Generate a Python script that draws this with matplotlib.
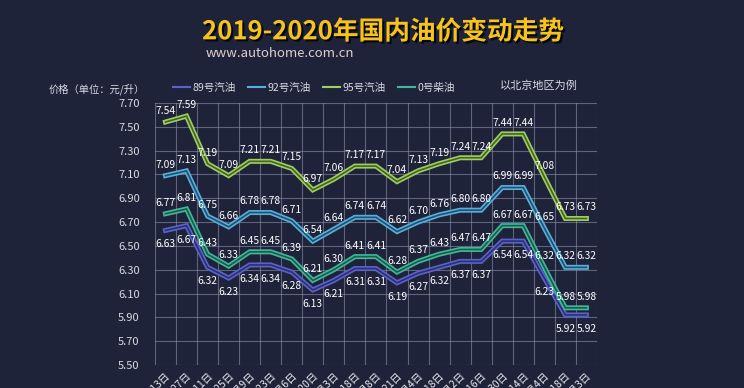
import matplotlib.pyplot as plt
import matplotlib.patheffects as pe
from matplotlib.lines import Line2D

plt.rcParams["font.family"] = ["Noto Sans CJK SC", "DejaVu Sans"]

dates = ["5月13日", "5月27日", "6月11日", "6月25日", "7月9日", "7月23日", "8月6日",
         "8月20日", "9月3日", "9月18日", "10月8日", "10月21日", "11月4日", "11月18日",
         "12月2日", "12月16日", "12月30日", "1月14日", "2月4日", "2月18日", "3月3日"]

oil_89 = [6.63, 6.67, 6.32, 6.23, 6.34, 6.34, 6.28, 6.13, 6.21, 6.31, 6.31,
          6.19, 6.27, 6.32, 6.37, 6.37, 6.54, 6.54, 6.23, 5.92, 5.92]
oil_92 = [7.09, 7.13, 6.75, 6.66, 6.78, 6.78, 6.71, 6.54, 6.64, 6.74, 6.74,
          6.62, 6.70, 6.76, 6.80, 6.80, 6.99, 6.99, 6.65, 6.32, 6.32]
oil_95 = [7.54, 7.59, 7.19, 7.09, 7.21, 7.21, 7.15, 6.97, 7.06, 7.17, 7.17,
          7.04, 7.13, 7.19, 7.24, 7.24, 7.44, 7.44, 7.08, 6.73, 6.73]
oil_0 = [6.77, 6.81, 6.43, 6.33, 6.45, 6.45, 6.39, 6.21, 6.30, 6.41, 6.41,
         6.28, 6.37, 6.43, 6.47, 6.47, 6.67, 6.67, 6.32, 5.98, 5.98]

y_ticks = [5.50, 5.70, 5.90, 6.10, 6.30, 6.50, 6.70, 6.90, 7.10, 7.30, 7.50, 7.70]

bg = "#1f2339"
series = [
    ("89号汽油", oil_89, "#5a62cc", "#2c3070", "below"),
    ("92号汽油", oil_92, "#56b0de", "#24506e", "above"),
    ("95号汽油", oil_95, "#9fcf5c", "#46612a", "above"),
    ("0号柴油", oil_0, "#3fb89c", "#1d5a4c", "above"),
]

fig = plt.figure(figsize=(7.44, 3.88), dpi=100, facecolor=bg)
ax = fig.add_axes([0.2083, 0.0593, 0.594, 0.6753], facecolor=bg)

x = list(range(len(dates)))
for name, vals, col, inner, pos in series:
    ax.plot(x, vals, color=col, lw=3.6, solid_joinstyle="miter", zorder=3)
    ax.plot(x, vals, color=inner, lw=1.2, solid_joinstyle="miter", zorder=4)
    for xi, v in zip(x, vals):
        dy = -10 if pos == "below" else 8
        ax.annotate(f"{v:.2f}", (xi, v), xytext=(0, dy), textcoords="offset points",
                    ha="center", va="center", color="white", fontsize=7.4, zorder=5)

ax.set_xlim(-0.5, len(dates) - 0.5)
ax.set_ylim(5.5, 7.7)
ax.set_yticks(y_ticks)
ax.set_yticklabels([f"{t:.2f}" for t in y_ticks], color="#d8dae3", fontsize=8)
ax.set_xticks(x)
ax.set_xticklabels(dates, rotation=45, ha="right", rotation_mode="anchor",
                   color="#e8e8ee", fontsize=7.5)
ax.tick_params(length=0, pad=11, axis="y")
ax.tick_params(length=0, pad=4, axis="x")

for b in [i - 0.5 for i in range(len(dates) + 1)]:
    ax.axvline(b, color="#8a8ea8", lw=0.8, alpha=0.6, zorder=1)
for t in y_ticks:
    ax.axhline(t, color="#8a8ea8", lw=0.8, alpha=0.6, zorder=1)
for s in ax.spines.values():
    s.set_visible(False)

fig.text(0.515, 0.918, "2019-2020年国内油价变动走势", ha="center", va="center",
         color="#f6c21c", fontsize=18.5, fontweight="bold",
         path_effects=[pe.withSimplePatchShadow(offset=(1.5, -1.5), shadow_rgbFace="black", alpha=0.8)])
fig.text(0.277, 0.862, "www.autohome.com.cn", ha="left", va="center",
         color="#e0cfcf", fontsize=9.5)
fig.text(0.065, 0.77, "价格（单位：元/升）", ha="left", va="center",
         color="#d8dae3", fontsize=7.4)
fig.text(0.672, 0.78, "以北京地区为例", ha="left", va="center",
         color="#d8dae3", fontsize=8)

handles = [Line2D([0], [0], color=c, lw=1.5) for _, _, c, _, _ in series]
leg = fig.legend(handles, [s[0] for s in series], loc="center", bbox_to_anchor=(0.422, 0.773),
                 ncol=4, frameon=False, fontsize=7.6, handlelength=1.6, handletextpad=0.2,
                 columnspacing=1.2, labelcolor="#d8dae3")

fig.savefig("out.png", dpi=100, facecolor=bg)
